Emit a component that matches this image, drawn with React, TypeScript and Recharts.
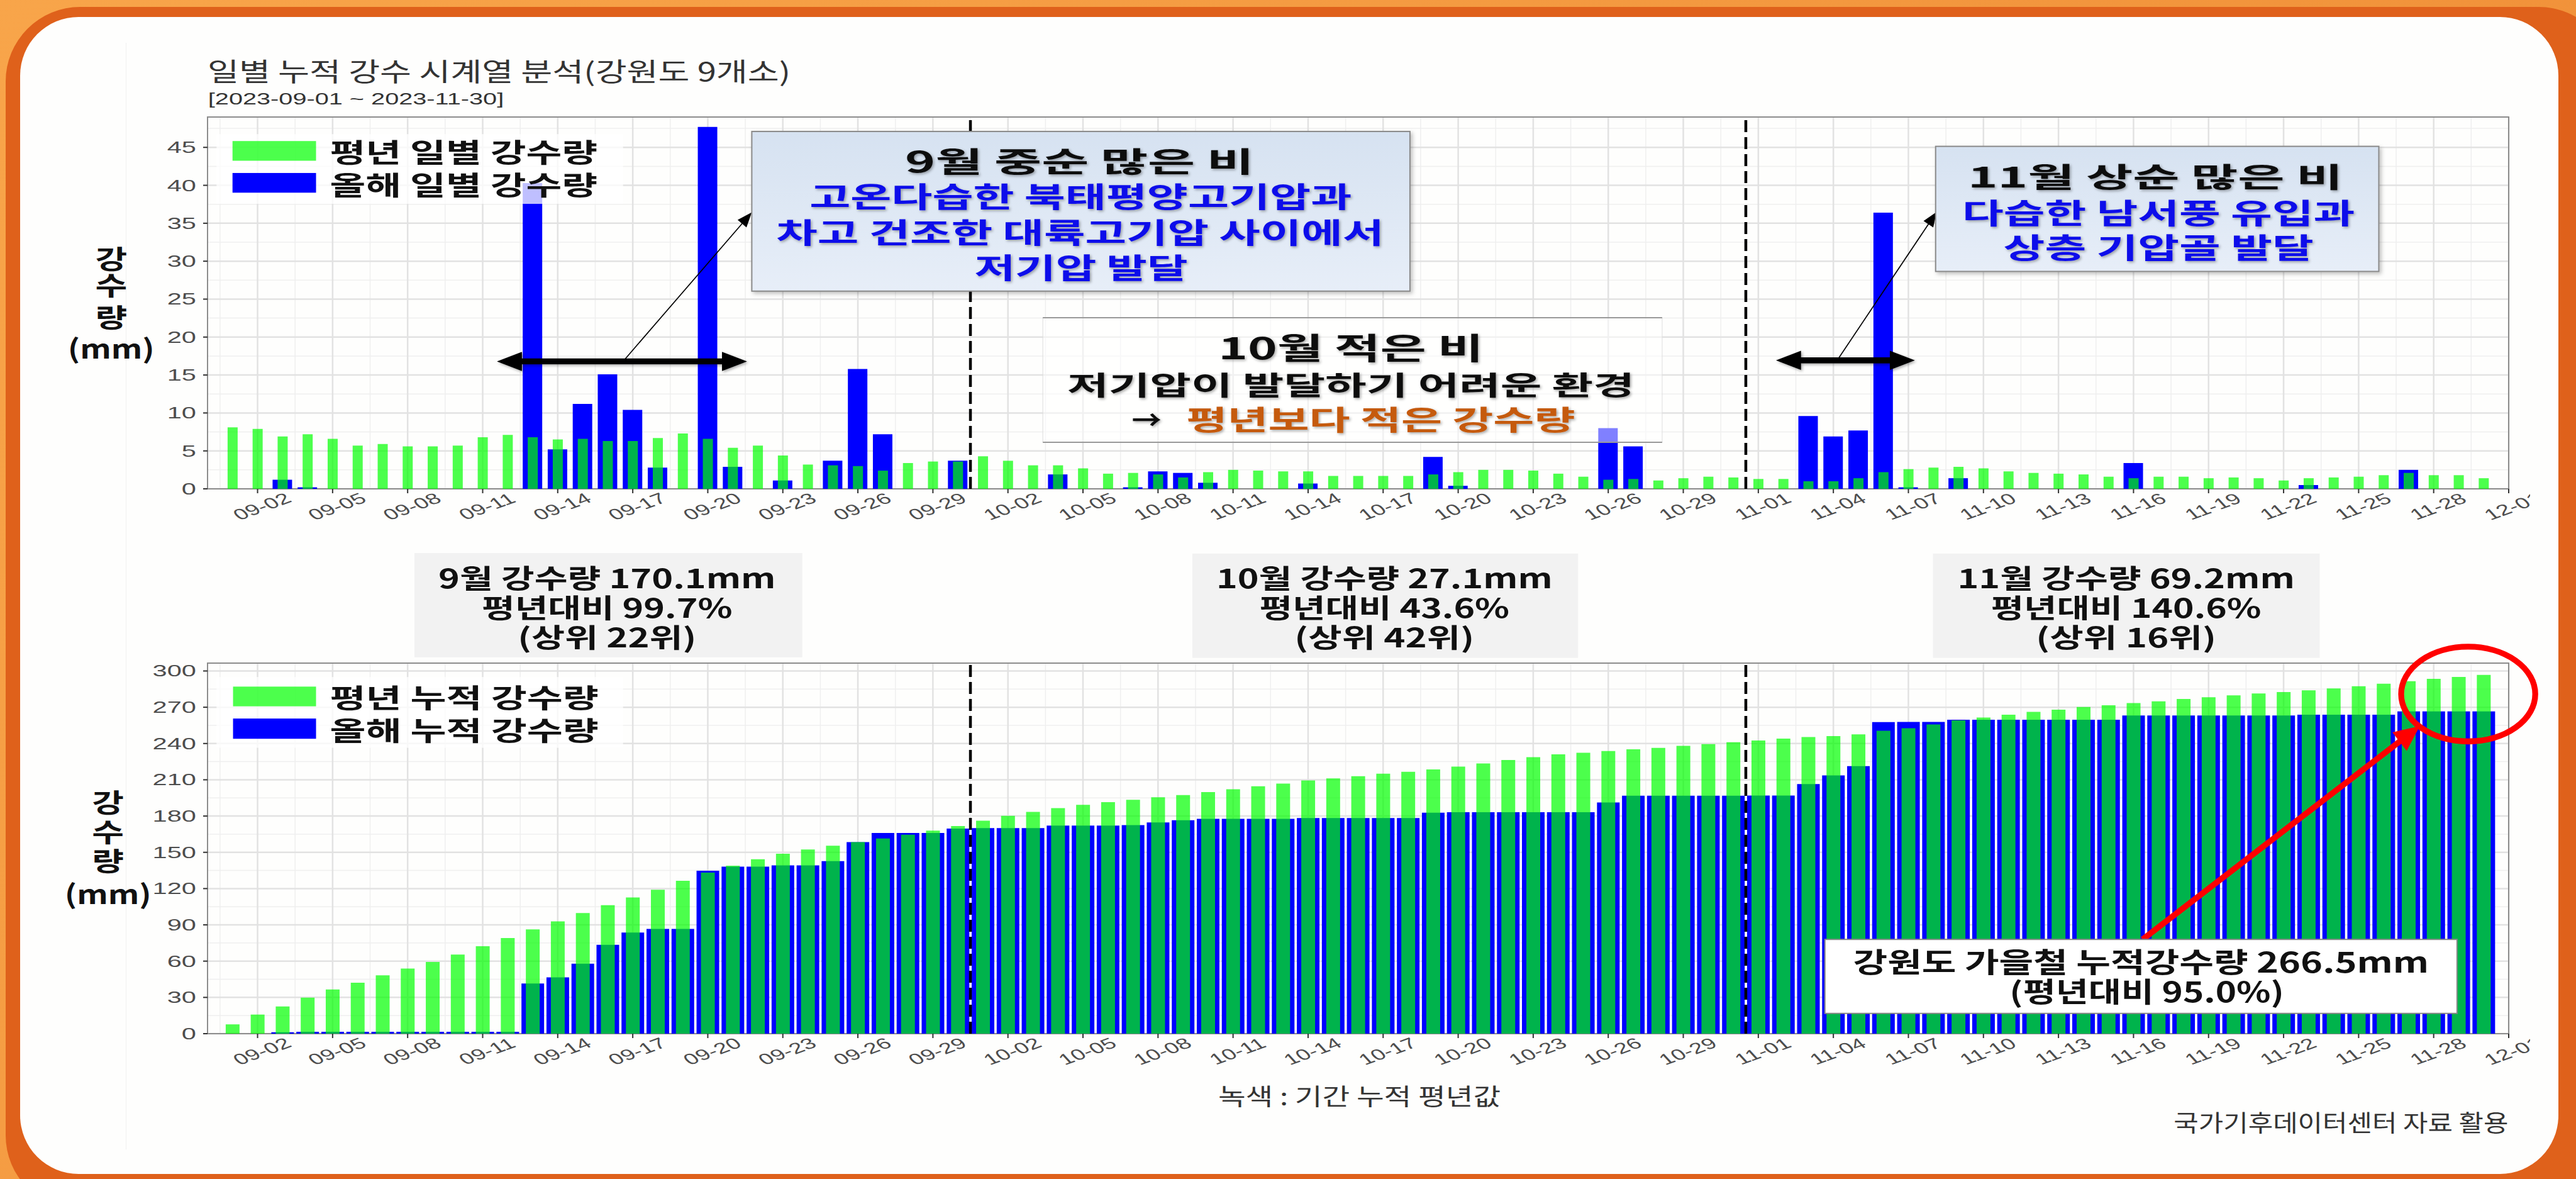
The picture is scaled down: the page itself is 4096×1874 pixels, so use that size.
import React from "react";
import {
  ComposedChart,
  Bar,
  XAxis,
  YAxis,
  CartesianGrid,
  ReferenceLine,
  ReferenceArea,
} from "recharts";

// the reference is 4840 x 2214, the window is 4096 x 1874
const S = 0.846;
const s = (v: number) => v * S;

const tickDays = [2, 5, 8, 11, 14, 17, 20, 23, 26, 29, 32, 35, 38, 41, 44, 47, 50, 53, 56, 59, 62, 65, 68, 71, 74, 77, 80, 83, 86, 89, 92];
const tickLabels = [
  "09-02", "09-05", "09-08", "09-11", "09-14", "09-17", "09-20", "09-23", "09-26", "09-29",
  "10-02", "10-05", "10-08", "10-11", "10-14", "10-17", "10-20", "10-23", "10-26", "10-29",
  "11-01", "11-04", "11-07", "11-10", "11-13", "11-16", "11-19", "11-22", "11-25", "11-28", "12-01",
];
const dailyTicks = [0, 5, 10, 15, 20, 25, 30, 35, 40, 45];
const cumTicks = [0, 30, 60, 90, 120, 150, 180, 210, 240, 270, 300];
const monthSplits = [30.5, 61.5];

// 평년 일별 강수량 (09-01 .. 11-30)
const normalDaily = [
  8.1, 7.9, 6.9, 7.2, 6.6, 5.7, 5.9, 5.6, 5.6, 5.7,
  6.8, 7.1, 6.8, 6.5, 6.6, 6.3, 6.3, 6.7, 7.3, 6.6,
  5.4, 5.7, 4.4, 3.2, 3.1, 3.0, 2.4, 3.4, 3.6, 3.6,
  4.3, 3.7, 3.1, 3.1, 2.7, 2.0, 2.1, 1.9, 1.5, 2.2,
  2.5, 2.4, 2.3, 2.3, 1.7, 1.7, 1.7, 1.7, 1.9, 2.2,
  2.5, 2.5, 2.4, 2.0, 1.6, 1.2, 1.3, 1.1, 1.4, 1.6, 1.5,
  1.3, 1.3, 1.0, 1.0, 1.4, 2.2, 2.6, 2.8, 2.9, 2.7,
  2.3, 2.1, 2.0, 1.9, 1.6, 1.4, 1.6, 1.6, 1.4, 1.5,
  1.4, 1.1, 1.4, 1.5, 1.6, 1.8, 2.1, 1.8, 1.8, 1.4,
];

// 올해 일별 강수량
const thisYearDaily = [
  0, 0, 1.2, 0.2, 0, 0, 0, 0, 0, 0,
  0, 0, 40.3, 5.2, 11.2, 15.1, 10.4, 2.8, 0, 47.7,
  2.9, 0, 1.1, 0, 3.7, 15.8, 7.2, 0, 0, 3.7,
  0, 0, 0, 1.9, 0, 0, 0.2, 2.3, 2.1, 0.8,
  0, 0, 0, 0.7, 0, 0, 0, 0, 4.2, 0.4,
  0, 0, 0, 0, 0, 8.0, 5.6, 0, 0, 0, 0,
  0, 0, 9.6, 6.9, 7.7, 36.4, 0.2, 0, 1.4, 0,
  0, 0, 0, 0, 0, 3.4, 0, 0, 0, 0,
  0, 0, 0.5, 0, 0, 0, 2.5, 0, 0, 0,
];

// 평년 누적 강수량
const normalCum = [
  7.7, 15.8, 22.5, 29.8, 36.6, 42.1, 48.2, 53.8, 59.3, 65.4,
  72.3, 79.1, 86.2, 92.9, 99.8, 106.3, 112.6, 119.0, 126.5, 133.2,
  138.9, 144.3, 148.8, 152.4, 155.5, 158.5, 161.5, 164.6, 168.0, 171.7,
  176.1, 180.2, 183.4, 186.6, 189.3, 191.5, 193.5, 195.5, 197.4, 199.8,
  202.2, 204.7, 206.9, 209.5, 211.1, 213.0, 215.0, 216.6, 218.6, 220.9,
  223.5, 226.3, 228.7, 231.0, 232.4, 233.8, 235.2, 236.4, 238.1, 239.5, 241.1,
  242.5, 244.1, 245.3, 246.2, 247.6, 250.6, 252.6, 255.7, 259.1, 261.5,
  263.8, 266.2, 268.0, 270.2, 271.7, 273.5, 274.9, 276.9, 278.3, 279.8,
  281.4, 282.6, 284.0, 285.6, 287.4, 289.5, 291.5, 293.5, 295.1, 296.8,
];

// 올해 누적 강수량
const thisYearCum = [
  0, 0, 1.2, 1.5, 1.5, 1.5, 1.5, 1.5, 1.5, 1.5,
  1.5, 1.5, 41.5, 46.6, 57.9, 73.5, 83.6, 86.6, 86.6, 134.8,
  138.1, 138.1, 139.2, 139.2, 142.7, 158.5, 166.0, 166.0, 166.0, 169.6,
  170.0, 170.0, 170.0, 172.1, 172.1, 172.1, 172.5, 174.7, 176.5, 177.7,
  177.7, 177.7, 177.7, 178.3, 178.3, 178.3, 178.3, 178.3, 182.8, 183.2,
  183.2, 183.2, 183.2, 183.2, 183.2, 191.3, 196.8, 196.8, 196.8, 196.8, 196.8,
  197.0, 197.0, 206.5, 213.6, 221.3, 257.7, 257.9, 257.9, 259.7, 259.7,
  259.7, 259.7, 259.7, 259.7, 259.7, 263.2, 263.2, 263.2, 263.2, 263.2,
  263.2, 263.2, 263.8, 263.8, 263.8, 263.8, 266.5, 266.5, 266.5, 266.5,
];

const dailyRows = normalDaily.map((v, i) => ({ day: i + 1, normal: v, thisYear: thisYearDaily[i] }));
const cumRows = normalCum.map((v, i) => ({ day: i + 1, normal: v, thisYear: thisYearCum[i] }));

// ggplot style minor grid, halfway between the major breaks
const minorDays = tickDays.map((d) => d - 1.5);
const dailyMinor = dailyTicks.map((v) => v + 2.5);
const cumMinor = cumTicks.slice(0, -1).map((v) => v + 15);

const FONT_KR = "'Noto Sans CJK KR', 'Noto Sans', sans-serif";
const FONT_AX = "'Liberation Sans', Arial, sans-serif";
const STRETCH = 1.6; // the source image was stretched sideways

function XTick(props: any) {
  const { x, y, payload } = props;
  const label = tickLabels[tickDays.indexOf(payload.value)];
  return (
    <g transform={`translate(${x + 7},${y + 19}) scale(${STRETCH},1) rotate(-30)`}>
      <text textAnchor="middle" dominantBaseline="central" fontSize={24} fill="#4D4D4D" fontFamily={FONT_AX}>
        {label}
      </text>
    </g>
  );
}

function YTick(props: any) {
  const { x, y, payload } = props;
  return (
    <g transform={`translate(${x},${y}) scale(${STRETCH},1)`}>
      <text textAnchor="end" dominantBaseline="central" fontSize={26} fill="#4D4D4D" fontFamily={FONT_AX}>
        {payload.value}
      </text>
    </g>
  );
}

interface PanelProps {
  rows: { day: number; normal: number; thisYear: number }[];
  yMax: number;
  yTicks: number[];
  yMinor: number[];
  bottom: number;
  blueSize: number;
  greenSize: number;
}

function Panel({ rows, yMax, yTicks, yMinor, bottom, blueSize, greenSize }: PanelProps) {
  return (
    <ComposedChart width={4096} height={900} data={rows} margin={{ top: 186, right: 107, left: 270, bottom }}>
      <CartesianGrid stroke="#EFEFEF" strokeWidth={1.5} horizontalValues={yMinor} verticalValues={minorDays} />
      <CartesianGrid stroke="#E2E2E2" strokeWidth={2.5} horizontalValues={yTicks} verticalValues={tickDays} />
      <XAxis
        type="number"
        dataKey="day"
        domain={[0, 92]}
        ticks={tickDays}
        interval={0}
        allowDataOverflow
        height={80}
        axisLine={false}
        tickSize={7}
        tickLine={{ stroke: "#333", strokeWidth: 2 }}
        tick={(p: any) => <XTick {...p} />}
      />
      <XAxis xAxisId="b" type="number" dataKey="day" domain={[0, 92]} ticks={tickDays} allowDataOverflow hide />
      <YAxis
        type="number"
        domain={[0, yMax]}
        ticks={yTicks}
        interval={0}
        allowDataOverflow
        width={60}
        axisLine={false}
        tickSize={7}
        tickMargin={11}
        tickLine={{ stroke: "#333", strokeWidth: 2 }}
        tick={(p: any) => <YTick {...p} />}
      />
      <Bar dataKey="thisYear" fill="#0000FF" barSize={blueSize} isAnimationActive={false} />
      <Bar xAxisId="b" dataKey="normal" fill="#00FF00" fillOpacity={0.7} barSize={greenSize} isAnimationActive={false} />
      {monthSplits.map((v) => (
        <ReferenceLine key={v} x={v} stroke="#000" strokeWidth={4.5} strokeDasharray="19 8" />
      ))}
      <ReferenceArea x1={0} x2={92} y1={0} y2={yMax} fill="none" stroke="#8C8C8C" strokeWidth={2} ifOverflow="visible" />
    </ComposedChart>
  );
}

function Txt(props: {
  x: number; y: number; w: number; size: number; children: React.ReactNode;
  fill?: string; weight?: number; anchor?: "start" | "middle" | "end"; font?: string; shadow?: boolean;
}) {
  const { x, y, w, size, children, fill = "#111", weight = 700, anchor = "middle", font = FONT_KR, shadow = false } = props;
  return (
    <text
      x={s(x)}
      y={s(y)}
      textLength={s(w)}
      lengthAdjust="spacingAndGlyphs"
      textAnchor={anchor}
      dominantBaseline="central"
      fontSize={s(size)}
      fontWeight={weight}
      fill={fill}
      fontFamily={font}
      filter={shadow ? "url(#ts)" : undefined}
    >
      {children}
    </text>
  );
}

function DoubleArrow({ x1, x2, y }: { x1: number; x2: number; y: number }) {
  const t = 5.5, hl = 47, hh = 18;
  const pts = [
    [x1, y], [x1 + hl, y - hh], [x1 + hl, y - t], [x2 - hl, y - t], [x2 - hl, y - hh],
    [x2, y], [x2 - hl, y + hh], [x2 - hl, y + t], [x1 + hl, y + t], [x1 + hl, y + hh],
  ].map(([a, b]) => `${s(a)},${s(b)}`).join(" ");
  return <polygon points={pts} fill="#000" filter="url(#ts)" />;
}

function Arrow({ x1, y1, x2, y2, width, len, half, color }: {
  x1: number; y1: number; x2: number; y2: number; width: number; len: number; half: number; color: string;
}) {
  const dx = x2 - x1, dy = y2 - y1;
  const d = Math.hypot(dx, dy);
  const ux = dx / d, uy = dy / d;
  const bx = x2 - ux * len, by = y2 - uy * len;
  const head = [
    [x2, y2], [bx - uy * half, by + ux * half], [bx + uy * half, by - ux * half],
  ].map(([a, b]) => `${s(a)},${s(b)}`).join(" ");
  return (
    <g>
      <line x1={s(x1)} y1={s(y1)} x2={s(bx + ux * 2)} y2={s(by + uy * 2)} stroke={color} strokeWidth={s(width)} />
      <polygon points={head} fill={color} />
    </g>
  );
}

function YTitle({ x, ys }: { x: number; ys: number[] }) {
  return (
    <g>
      <Txt x={x} y={ys[0]} w={60} size={49}>강</Txt>
      <Txt x={x} y={ys[1]} w={60} size={49}>수</Txt>
      <Txt x={x} y={ys[2]} w={60} size={49}>량</Txt>
      <Txt x={x} y={ys[3]} w={163} size={49}>(mm)</Txt>
    </g>
  );
}

function Overlay() {
  return (
    <svg width={4096} height={1874} style={{ position: "absolute", left: 0, top: 0, pointerEvents: "none" }}>
      <defs>
        <filter id="ts" x="-10%" y="-30%" width="120%" height="160%">
          <feDropShadow dx={2} dy={2} stdDeviation={2} floodColor="#000" floodOpacity={0.35} />
        </filter>
        <filter id="bs" x="-5%" y="-10%" width="110%" height="120%">
          <feDropShadow dx={3} dy={3} stdDeviation={3} floodColor="#000" floodOpacity={0.25} />
        </filter>
        <linearGradient id="boxBlue" x1="0" y1="0" x2="0" y2="1">
          <stop offset="0" stopColor="#D6E2F1" />
          <stop offset="1" stopColor="#E7EEF8" />
        </linearGradient>
      </defs>

      {/* titles */}
      <Txt x={390} y={132} w={1096} size={48} weight={400} fill="#333" anchor="start">
        일별 누적 강수 시계열 분석(강원도 9개소)
      </Txt>
      <Txt x={391} y={185} w={556} size={31} weight={400} fill="#333" anchor="start" font={FONT_AX}>
        [2023-09-01 ~ 2023-11-30]
      </Txt>

      <YTitle x={209} ys={[483, 533, 593, 652]} />
      <YTitle x={203} ys={[1505, 1560, 1615, 1677]} />

      {/* legend, top */}
      <rect x={s(407)} y={s(252)} width={s(764)} height={s(131)} fill="#fff" fillOpacity={0.75} />
      <rect x={s(437)} y={s(265)} width={s(157)} height={s(37)} fill="#00FF00" fillOpacity={0.7} />
      <rect x={s(437)} y={s(325)} width={s(157)} height={s(37)} fill="#0000FF" />
      <Txt x={620} y={283} w={503} size={50} anchor="start">평년 일별 강수량</Txt>
      <Txt x={620} y={344} w={503} size={50} anchor="start">올해 일별 강수량</Txt>

      {/* legend, bottom */}
      <rect x={s(407)} y={s(1272)} width={s(764)} height={s(133)} fill="#fff" fillOpacity={0.75} />
      <rect x={s(438)} y={s(1290)} width={s(156)} height={s(37)} fill="#00FF00" fillOpacity={0.7} />
      <rect x={s(438)} y={s(1350)} width={s(156)} height={s(38)} fill="#0000FF" />
      <Txt x={620} y={1308} w={505} size={50} anchor="start">평년 누적 강수량</Txt>
      <Txt x={620} y={1369} w={505} size={50} anchor="start">올해 누적 강수량</Txt>

      {/* September note */}
      <DoubleArrow x1={934} x2={1404} y={679} />
      <Arrow x1={1171} y1={679} x2={1413} y2={399} width={2} len={28} half={11} color="#000" />
      <rect x={s(1413)} y={s(247)} width={s(1237)} height={s(300)} fill="url(#boxBlue)" stroke="#8A8A8A" strokeWidth={2} filter="url(#bs)" />
      <Txt x={2029} y={300} w={656} size={54} shadow>9월 중순 많은 비</Txt>
      <Txt x={2031} y={366} w={1019} size={54} fill="#0B0BEA" shadow>고온다습한 북태평양고기압과</Txt>
      <Txt x={2030} y={434} w={1142} size={54} fill="#0B0BEA" shadow>차고 건조한 대륙고기압 사이에서</Txt>
      <Txt x={2032} y={500} w={401} size={54} fill="#0B0BEA" shadow>저기압 발달</Txt>

      {/* October note */}
      <rect x={s(1960)} y={s(597)} width={s(1164)} height={s(234)} fill="#fff" fillOpacity={0.5} stroke="#DDD" strokeWidth={1} />
      <line x1={s(1960)} y1={s(597)} x2={s(3124)} y2={s(597)} stroke="#999" strokeWidth={2} />
      <line x1={s(1960)} y1={s(831)} x2={s(3124)} y2={s(831)} stroke="#999" strokeWidth={2} />
      <Txt x={2539} y={651} w={498} size={56} shadow>10월 적은 비</Txt>
      <Txt x={2539} y={721} w={1066} size={50} shadow>저기압이 발달하기 어려운 환경</Txt>
      <Txt x={2155} y={786} w={56} size={50} shadow>→</Txt>
      <Txt x={2595} y={786} w={731} size={52} fill="#C55A11" shadow>평년보다 적은 강수량</Txt>

      {/* November note */}
      <DoubleArrow x1={3338} x2={3599} y={677} />
      <Arrow x1={3453} y1={677} x2={3640} y2={398} width={2} len={28} half={11} color="#000" />
      <rect x={s(3638)} y={s(275)} width={s(833)} height={s(235)} fill="url(#boxBlue)" stroke="#8A8A8A" strokeWidth={2} filter="url(#bs)" />
      <Txt x={4051} y={330} w={705} size={52} shadow>11월 상순 많은 비</Txt>
      <Txt x={4057} y={397} w={738} size={54} fill="#0B0BEA" shadow>다습한 남서풍 유입과</Txt>
      <Txt x={4057} y={462} w={583} size={54} fill="#0B0BEA" shadow>상층 기압골 발달</Txt>

      {/* monthly summaries */}
      <rect x={s(779)} y={s(1039)} width={s(729)} height={s(196)} fill="#F2F2F2" />
      <Txt x={1141} y={1083} w={634} size={50}>9월 강수량 170.1mm</Txt>
      <Txt x={1141} y={1139} w={471} size={50}>평년대비 99.7%</Txt>
      <Txt x={1141} y={1194} w={336} size={50}>(상위 22위)</Txt>

      <rect x={s(2241)} y={s(1040)} width={s(725)} height={s(196)} fill="#F2F2F2" />
      <Txt x={2602} y={1083} w={632} size={50}>10월 강수량 27.1mm</Txt>
      <Txt x={2602} y={1139} w={470} size={50}>평년대비 43.6%</Txt>
      <Txt x={2602} y={1194} w={338} size={50}>(상위 42위)</Txt>

      <rect x={s(3633)} y={s(1040)} width={s(727)} height={s(196)} fill="#F2F2F2" />
      <Txt x={3996} y={1083} w={634} size={50}>11월 강수량 69.2mm</Txt>
      <Txt x={3996} y={1139} w={508} size={50}>평년대비 140.6%</Txt>
      <Txt x={3996} y={1194} w={339} size={50}>(상위 16위)</Txt>

      {/* seasonal total */}
      <ellipse cx={s(4639)} cy={s(1304)} rx={s(126)} ry={s(89)} fill="none" stroke="#FF0000" strokeWidth={s(11)} />
      <Arrow x1={4027} y1={1765} x2={4548} y2={1364} width={11} len={48} half={22} color="#FF0000" />
      <rect x={s(3430)} y={s(1765)} width={s(1188)} height={s(139)} fill="#fff" stroke="#888" strokeWidth={2} />
      <Txt x={4024} y={1805} w={1082} size={52}>강원도 가을철 누적강수량 266.5mm</Txt>
      <Txt x={4035} y={1860} w={516} size={52}>(평년대비 95.0%)</Txt>

      <Txt x={2555} y={2058} w={531} size={44} weight={400} fill="#333">녹색 : 기간 누적 평년값</Txt>
      <Txt x={4400} y={2108} w={629} size={44} weight={400} fill="#333">국가기후데이터센터 자료 활용</Txt>
    </svg>
  );
}

export default function App() {
  return (
    <div style={{ position: "absolute", left: 0, top: 0, width: 4096, height: 1874, overflow: "hidden", background: "linear-gradient(135deg, #F8A54A, #EE8A33)" }}>
      <div
        style={{
          position: "absolute",
          left: s(11),
          top: s(13),
          width: s(4900),
          height: s(2260),
          background: "#DF611B",
          borderRadius: s(140),
        }}
      />
      <div
        style={{
          position: "absolute",
          left: s(38),
          top: s(32),
          width: s(4809 - 38),
          height: s(2206 - 32),
          background: "#FEFEFD",
          borderRadius: s(110),
        }}
      />
      <div style={{ position: "absolute", left: s(236), top: s(80), width: 1, height: s(2080), background: "#F0F0F0" }} />
      <div style={{ position: "absolute", left: 0, top: 0, width: s(4755), height: 1874, overflow: "hidden" }}>
        <div style={{ position: "absolute", left: 0, top: 0 }}>
          <Panel rows={dailyRows} yMax={49} yTicks={dailyTicks} yMinor={dailyMinor} bottom={43} blueSize={31} greenSize={16} />
        </div>
        <div style={{ position: "absolute", left: 0, top: 868 }}>
          <Panel rows={cumRows} yMax={306.5} yTicks={cumTicks} yMinor={cumMinor} bottom={45} blueSize={36} greenSize={22} />
        </div>
      </div>
      <Overlay />
    </div>
  );
}
